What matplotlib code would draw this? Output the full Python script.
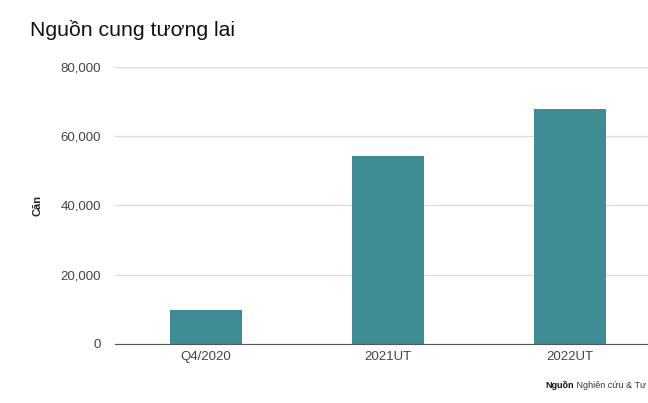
import matplotlib
matplotlib.use("Agg")
import matplotlib.pyplot as plt
from matplotlib.ticker import FuncFormatter

plt.rcParams["font.family"] = ["Liberation Sans", "DejaVu Sans"]

categories = ["Q4/2020", "2021UT", "2022UT"]
supply = [9800, 54300, 67900]
y_ticks = [0, 20000, 40000, 60000, 80000]

BAR = "#3e8c94"
TXT = "#444444"

fig = plt.figure(figsize=(6.48, 4.03), dpi=100)
ax = fig.add_axes([115 / 648, 1 - 344 / 403, 1 - 115 / 648, (344 - 67) / 403])

x = range(len(categories))
ax.bar(x, supply, width=0.4, color=BAR, zorder=2)
ax.set_xlim(-0.5, 2.429)
ax.set_ylim(0, 80000)
ax.set_xticks(list(x))
ax.set_xticklabels(categories)
ax.set_yticks(y_ticks)
ax.yaxis.set_major_formatter(FuncFormatter(lambda v, _: f"{int(v):,}"))
ax.grid(axis="y", color="#dddddd", linewidth=1, zorder=0)
ax.tick_params(axis="both", length=0, labelsize=9.5, colors=TXT, pad=10)
ax.tick_params(axis="x", pad=5)
for s in ["top", "right", "left"]:
    ax.spines[s].set_visible(False)
ax.spines["bottom"].set_color("#555555")
ax.spines["bottom"].set_zorder(3)

ax.set_ylabel("Căn", fontsize=8, color="#222222", fontweight="bold", labelpad=13)

fig.text(30 / 648, 1 - 30 / 403, "Nguồn cung tương lai", fontsize=15.3,
         color="#111111", va="center", ha="left")

src = fig.text(545 / 648, 1 - 385 / 403, "Nguồn", fontsize=6.5,
               fontweight="bold", color="#111111", va="center", ha="left")
ax.annotate(" Nghiên cứu & Tư", xy=(1, 0.5), xycoords=src, fontsize=6.5,
            color="#333333", va="center", ha="left", annotation_clip=False)

fig.savefig("out.png", dpi=100)
